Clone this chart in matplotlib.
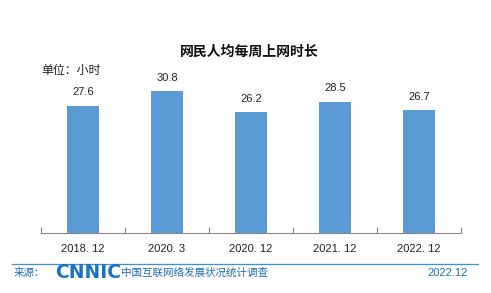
import matplotlib.pyplot as plt
import numpy as np

plt.rcParams['font.family'] = ['Liberation Sans', 'Noto Sans CJK SC', 'DejaVu Sans']

periods = ["2018. 12", "2020. 3", "2020. 12", "2021. 12", "2022. 12"]
hours = [27.6, 30.8, 26.2, 28.5, 26.7]

W, H = 491, 293
fig = plt.figure(figsize=(W / 100, H / 100), dpi=100)
fig.patch.set_facecolor('white')

ax = fig.add_axes([41 / W, 60 / H, 420 / W, 193 / H])
ax.set_facecolor('none')
x = np.arange(len(periods))
ax.bar(x, hours, width=0.39, color='#5b9bd5', zorder=2)
ax.set_xlim(-0.5, len(periods) - 0.5)
ax.set_ylim(0, 193 / 4.61)
for xi, v in zip(x, hours):
    ax.annotate(f"{v}", (xi, v), xytext=(0, 6), textcoords='offset points',
                ha='center', va='bottom', fontsize=8, color='#222222')

ax.set_xticks(np.arange(-0.5, len(periods)), minor=False)
ax.set_xticklabels([])
ax.tick_params(axis='x', length=4, color='#888888', direction='in')
ax.set_xticks(x, minor=True)
ax.set_xticklabels(periods, minor=True, fontsize=8, color='#222222')
ax.tick_params(axis='x', which='minor', length=0, pad=8)
ax.set_yticks([])
for s in ['top', 'right', 'left']:
    ax.spines[s].set_visible(False)
ax.spines['bottom'].set_color('#888888')

cjk = ['Noto Sans CJK SC', 'DejaVu Sans']
fig.text(249 / W, 1 - 52 / H, "网民人均每周上网时长", fontsize=10, fontweight='bold',
         ha='center', va='center', color='#111111', family=cjk)
fig.text(41 / W, 1 - 70 / H, "单位：小时", fontsize=8.6, ha='left', va='center',
         color='#222222', family=cjk)

# footer
fig.add_artist(plt.Line2D([12 / W, 478 / W], [1 - 264 / H] * 2, color='#3d8fd6', lw=0.9))
fig.text(14 / W, 1 - 273 / H, "来源：", fontsize=7.5, ha='left', va='center',
         color='#1f6fb5', family=cjk)
fig.text(55 / W, 1 - 273 / H, "CNNIC", fontsize=13.5, fontweight='bold', ha='left',
         va='center', color='#1a73c2', family='DejaVu Sans')
fig.text(121 / W, 1 - 273 / H, "中国互联网络发展状况统计调查", fontsize=7.6, ha='left',
         va='center', color='#1f6fb5', family=cjk)
fig.text(468 / W, 1 - 273 / H, "2022.12", fontsize=8, ha='right', va='center',
         color='#1f6fb5')

fig.savefig('out.png', dpi=100, facecolor='white')
